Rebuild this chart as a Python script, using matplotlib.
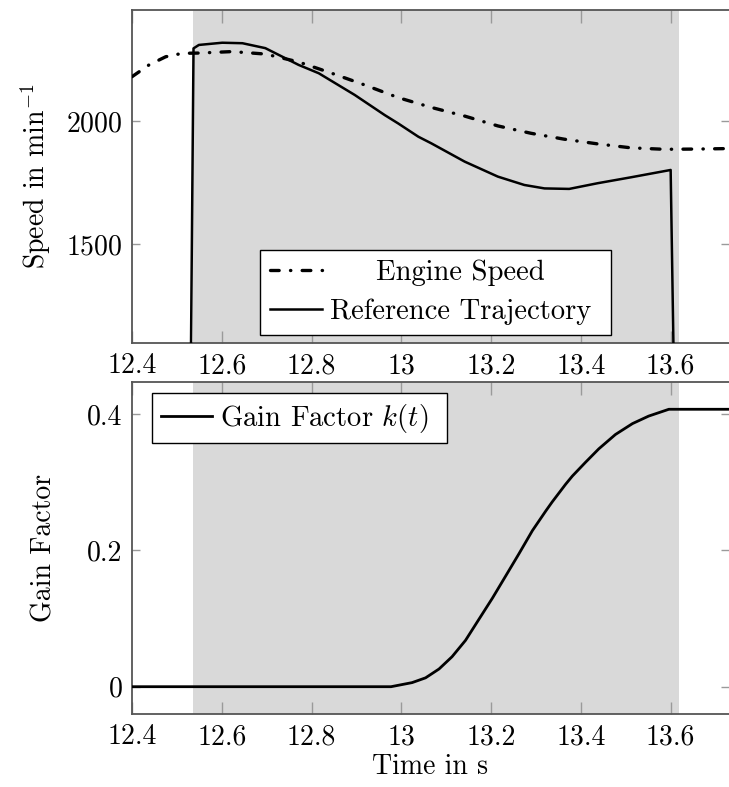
import matplotlib
matplotlib.use('Agg')
import matplotlib.pyplot as plt
from matplotlib.ticker import FuncFormatter

# data
eng_t = [12.40, 12.438, 12.475, 12.512, 12.549, 12.623, 12.697, 12.771, 12.845, 12.919,
         12.993, 13.067, 13.141, 13.215, 13.289, 13.363, 13.437, 13.511, 13.585, 13.66, 13.73]
eng_v = [2180, 2228, 2261, 2275, 2276, 2282, 2272, 2240, 2194, 2146,
         2095, 2055, 2020, 1980, 1950, 1926, 1907, 1891, 1885, 1886, 1888]

ref_t = [12.531, 12.537, 12.549, 12.601, 12.646, 12.697, 12.771, 12.816, 12.896, 12.963,
         12.993, 13.038, 13.067, 13.141, 13.215, 13.274, 13.319, 13.374, 13.437, 13.511,
         13.600, 13.607]
ref_v = [1000, 2295, 2309, 2318, 2316, 2296, 2228, 2194, 2106, 2024,
         1990, 1936, 1909, 1835, 1774, 1740, 1726, 1724, 1747, 1771,
         1801, 1000]

gain_t = [12.4, 12.977, 13.024, 13.054, 13.084, 13.113, 13.143, 13.172, 13.203, 13.233,
          13.262, 13.292, 13.322, 13.336, 13.366, 13.381, 13.410, 13.440, 13.477, 13.515,
          13.551, 13.596, 13.73]
gain_k = [0, 0, 0.006, 0.013, 0.026, 0.044, 0.068, 0.098, 0.130, 0.163,
          0.195, 0.229, 0.258, 0.271, 0.297, 0.309, 0.329, 0.349, 0.370, 0.386,
          0.397, 0.407, 0.407]

active = (12.536, 13.618)
x_ticks = [12.4, 12.6, 12.8, 13.0, 13.2, 13.4, 13.6]

plt.rcParams['font.family'] = 'cmr10'
plt.rcParams['mathtext.fontset'] = 'cm'
plt.rcParams['axes.formatter.use_mathtext'] = True
plt.rcParams['font.size'] = 20

fig = plt.figure(figsize=(7.29, 7.87), dpi=100)
ax1 = fig.add_axes([0.1811, 0.5642, 0.8189, 0.4231])
ax2 = fig.add_axes([0.1811, 0.0928, 0.8189, 0.4218])


def style(ax):
    ax.set_xlim(12.4, 13.73)
    ax.set_xticks(x_ticks)
    ax.xaxis.set_major_formatter(FuncFormatter(lambda v, p: '%g' % round(v, 2)))
    ax.axvspan(*active, color='#d9d9d9', lw=0, zorder=0)
    for s in ['left', 'bottom', 'top']:
        ax.spines[s].set_color('#555555')
        ax.spines[s].set_linewidth(1.3)
    ax.spines['right'].set_visible(False)
    ax.tick_params(axis='x', direction='in', length=9, width=1, color='#9a9a9a',
                   top=True, pad=7, labelsize=20)
    ax.tick_params(axis='y', direction='in', length=6, width=1, color='#9a9a9a',
                   right=True, pad=7, labelsize=20)


style(ax1)
style(ax2)

leg_kw = dict(mode='expand', borderaxespad=0, fancybox=False, framealpha=1,
              edgecolor='black', fontsize=20.6, handlelength=1.8,
              handletextpad=0.28)

# upper panel: speeds
ax1.plot(eng_t, eng_v, color='black', lw=2.4, dashes=(2.6, 3.4, 0.1, 3.4),
         dash_capstyle='round', label='Engine Speed', zorder=3)
ax1.plot(ref_t, ref_v, color='black', lw=1.8, label='Reference Trajectory', zorder=3)
ax1.set_ylim(1098, 2451)
ax1.set_yticks([1500, 2000])
ax1.set_ylabel('Speed in min$^{-1}$', fontsize=20)
ax1.yaxis.set_label_coords(-0.132, 0.5)
leg1 = ax1.legend(loc='lower left', bbox_to_anchor=(0.2144, 0.024, 0.588, 0),
                  labelspacing=0.42, borderpad=0.35, **leg_kw)
leg1.get_frame().set_linewidth(1.0)

# lower panel: gain factor
ax2.plot(gain_t, gain_k, color='black', lw=2.0, label='Gain Factor $k(t)$', zorder=3)
ax2.set_ylim(-0.040, 0.447)
ax2.set_yticks([0, 0.2, 0.4])
ax2.yaxis.set_major_formatter(FuncFormatter(lambda v, p: '%g' % round(v, 2)))
ax2.set_ylabel('Gain Factor', fontsize=20)
ax2.yaxis.set_label_coords(-0.125, 0.5)
ax2.set_xlabel('Time in s', fontsize=20)
ax2.xaxis.set_label_coords(0.5, -0.12)
leg2 = ax2.legend(loc='upper left', bbox_to_anchor=(0.0335, 0.967, 0.494, 0),
                  borderpad=0.3, **leg_kw)
leg2.get_frame().set_linewidth(1.0)

# centre the shorter legend entry like pgfplots does
fig.canvas.draw()
r = fig.canvas.get_renderer()
t0, t1 = leg1.get_texts()
w0 = t0.get_window_extent(r).width
w1 = t1.get_window_extent(r).width
t0.set_x((w1 - w0) / 2)

fig.savefig('out.png', dpi=100)
